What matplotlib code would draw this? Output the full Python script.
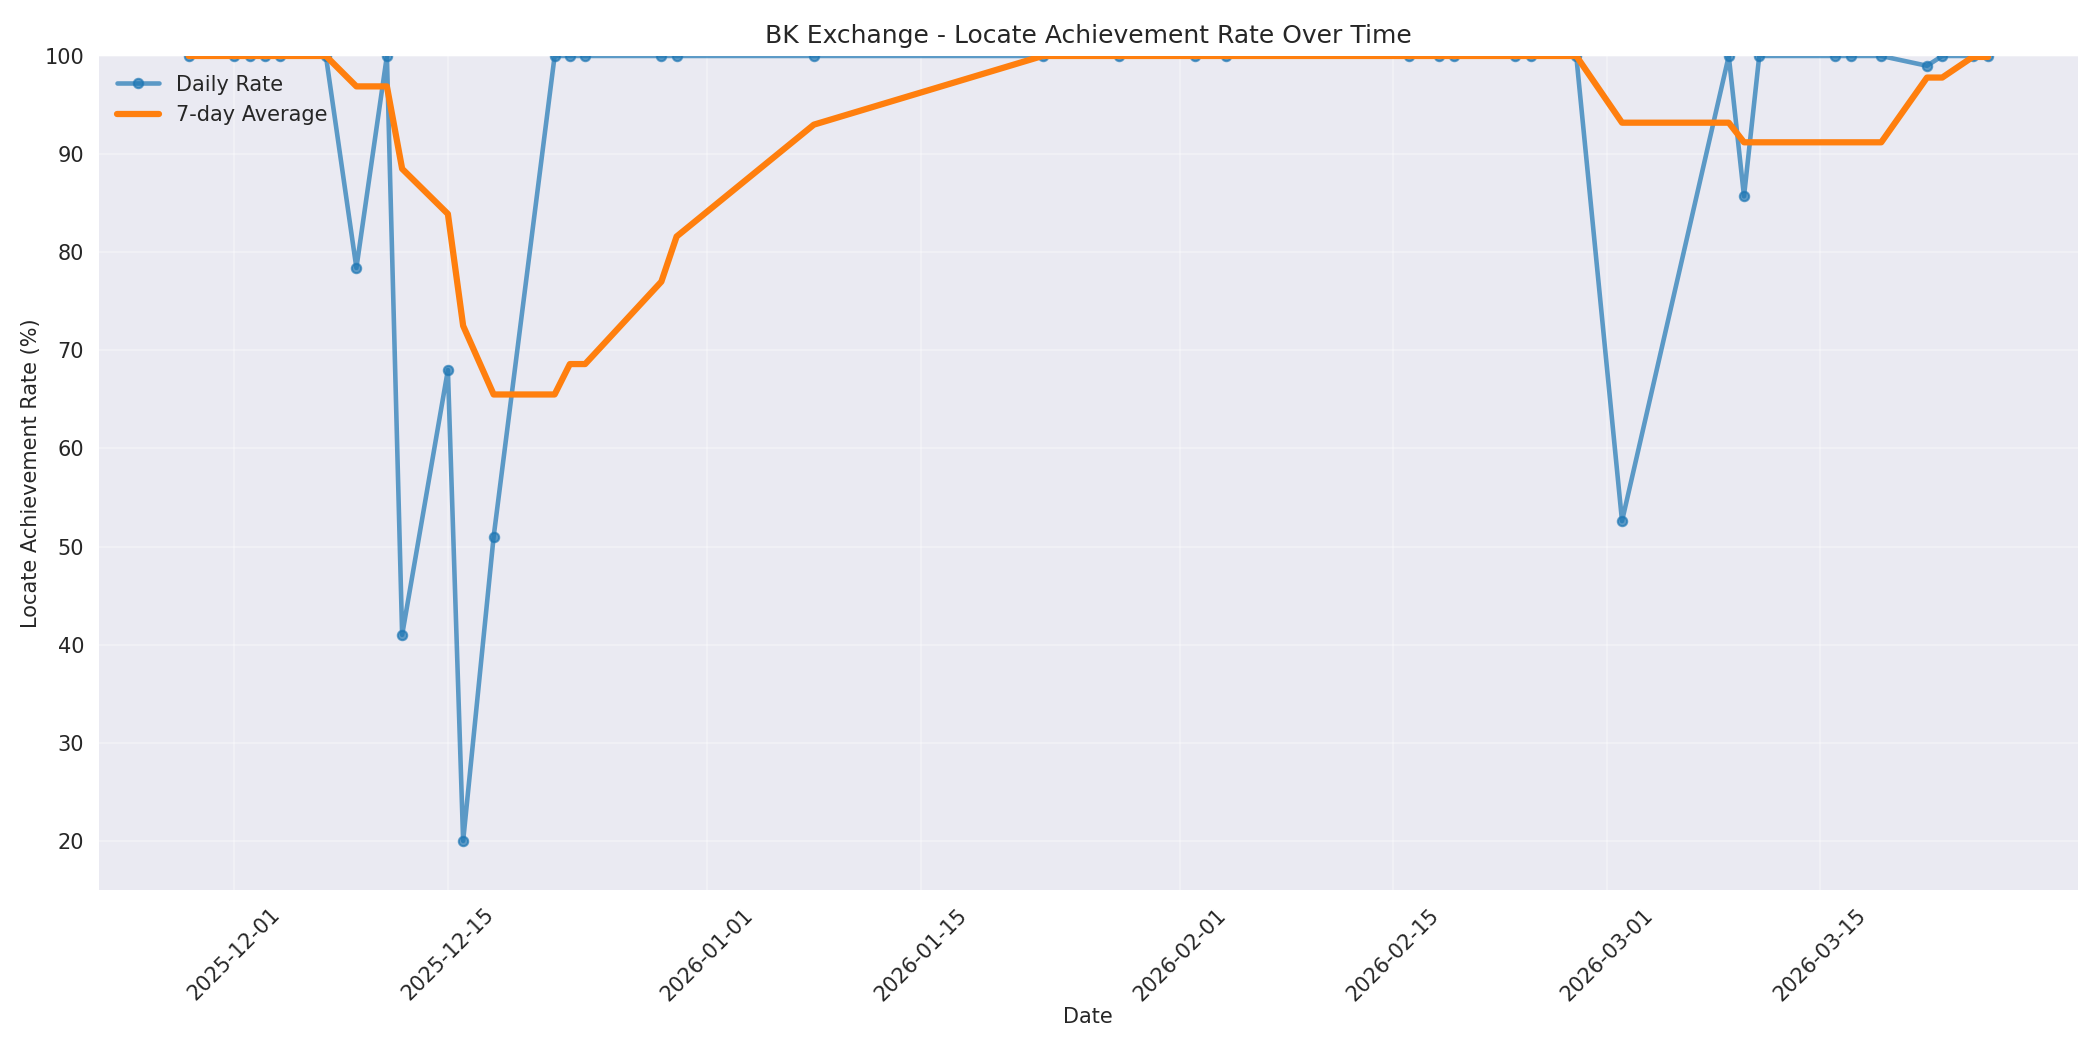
import matplotlib
matplotlib.use("Agg")
import matplotlib.pyplot as plt
import matplotlib.dates as mdates
import pandas as pd

# daily locate achievement rate (%)
dates = ["2025-11-28", "2025-12-01", "2025-12-02", "2025-12-03", "2025-12-04",
         "2025-12-07", "2025-12-09", "2025-12-11", "2025-12-12", "2025-12-15",
         "2025-12-16", "2025-12-18", "2025-12-22", "2025-12-23", "2025-12-24",
         "2025-12-29", "2025-12-30", "2026-01-08", "2026-01-23", "2026-01-28",
         "2026-02-02", "2026-02-04", "2026-02-16", "2026-02-18", "2026-02-19",
         "2026-02-23", "2026-02-24", "2026-02-27", "2026-03-02", "2026-03-09",
         "2026-03-10", "2026-03-11", "2026-03-16", "2026-03-17", "2026-03-19",
         "2026-03-22", "2026-03-23", "2026-03-25", "2026-03-26"]
daily_rate = [100, 100, 100, 100, 100,
              100, 78.4, 100, 41.0, 68.0,
              20.0, 51.0, 100, 100, 100,
              100, 100, 100, 100, 100,
              100, 100, 100, 100, 100,
              100, 100, 100, 52.6, 100,
              85.7, 100, 100, 100, 100,
              99.0, 100, 100, 100]
avg_7day = [100, 100, 100, 100, 100,
            100, 96.9, 96.9, 88.5, 83.9,
            72.5, 65.5, 65.5, 68.6, 68.6,
            77.0, 81.6, 93.0, 100, 100,
            100, 100, 100, 100, 100,
            100, 100, 100, 93.2, 93.2,
            91.2, 91.2, 91.2, 91.2, 91.2,
            97.8, 97.8, 99.9, 99.9]

x = pd.to_datetime(dates)

plt.style.use("seaborn-v0_8")
plt.rcParams["font.family"] = ["DejaVu Sans"]
plt.rcParams["axes.labelsize"] = 10
fig, ax = plt.subplots(figsize=(14, 7), dpi=150)

ax.plot(x, daily_rate, marker="o", linewidth=2.2, markersize=4.5,
        markeredgewidth=1, color="#1f77b4", alpha=0.7, label="Daily Rate")
ax.plot(x, avg_7day, linewidth=3, color="#ff7f0e", label="7-day Average")

ax.set_title("BK Exchange - Locate Achievement Rate Over Time")
ax.set_xlabel("Date", labelpad=1.5)
ax.set_ylabel("Locate Achievement Rate (%)", labelpad=1.5)
ax.set_ylim(15, 100)
ax.grid(True, alpha=0.3)
ax.legend(loc="upper left")
ax.xaxis.set_major_formatter(mdates.DateFormatter("%Y-%m-%d"))
plt.setp(ax.get_xticklabels(), rotation=45)

plt.subplots_adjust(left=0.047, right=0.9895, top=0.9467, bottom=0.1524)
plt.savefig("out.png")
